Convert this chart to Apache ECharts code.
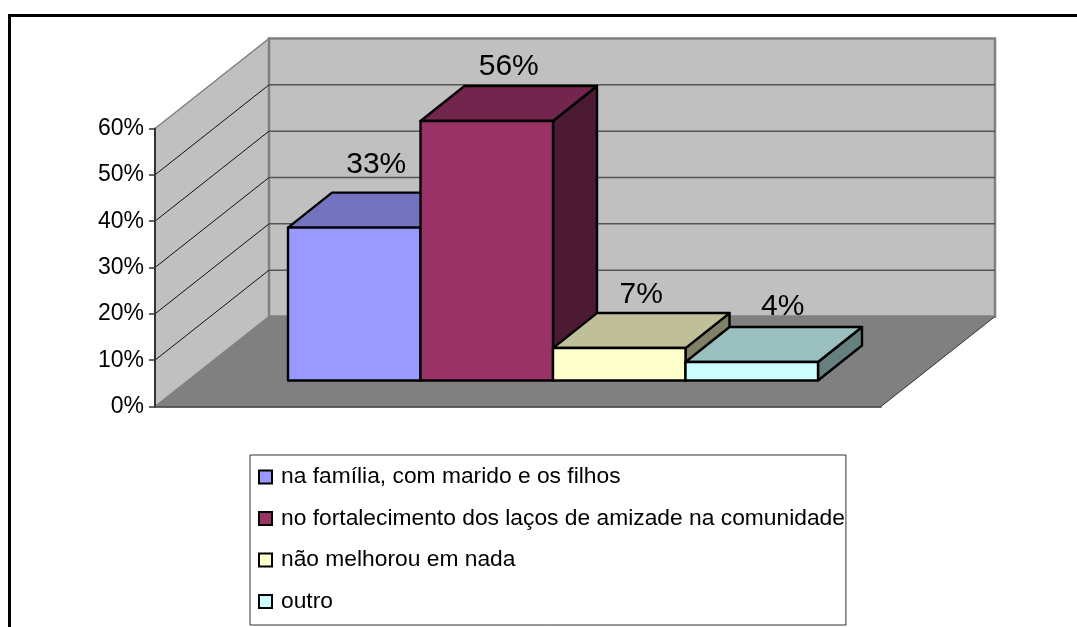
<!DOCTYPE html>
<html>
<head>
<meta charset="utf-8">
<style>html,body{margin:0;padding:0;background:#fff}#c{width:1077px;height:627px}</style>
<script src="https://cdn.jsdelivr.net/npm/echarts@6/dist/echarts.min.js"></script>
</head>
<body>
<div id="c"></div>
<script>
const categories = ['Melhoria'];
const seriesNames = ['na família, com marido e os filhos','no fortalecimento dos laços de amizade na comunidade','não melhorou em nada','outro'];
const seriesValues = [33, 56, 7, 4];
const yTicks = [0, 10, 20, 30, 40, 50, 60];

const frontColors = ['#9999ff','#993366','#ffffcc','#ccffff'];
const topColors = ['#7373bf','#73264d','#bfbf99','#99bfbf'];
const sideColors = ['#4d4d80','#4d1a33','#808066','#668080'];
const labelNudgeX = [0, 0, 0, 9];
const labelLift = [28, 19.5, 18, 20];

const FONT = 'Liberation Sans, Arial, sans-serif';
const WALL_DX = 114, WALL_DY = 90;
const BAR_DX = 44, BAR_DY = 35;
const BAR_BASE_LIFT = 26;
const BAR_FRACTION = 132.5 / 726;
const BARS_SHIFT = 35;

function wallsRender(params, api) {
  const o = api.coord([0, 0]);
  const t = api.coord([0, 60]);
  const w = api.size([1, 0])[0];
  const x0 = o[0] - w / 2, yb = o[1], yt = t[1];
  const x1 = x0 + w, dx = WALL_DX, dy = WALL_DY;
  const children = [
    {type:'polygon',shape:{points:[[x0,yb],[x0,yt],[x0+dx,yt-dy],[x0+dx,yb-dy]]},style:{fill:'#c0c0c0',stroke:'#808080',lineWidth:1.5}},
    {type:'polygon',shape:{points:[[x0+dx,yb-dy],[x0+dx,yt-dy],[x1+dx,yt-dy],[x1+dx,yb-dy]]},style:{fill:'#c0c0c0',stroke:'#808080',lineWidth:2.5}},
    {type:'polygon',shape:{points:[[x0,yb],[x0+dx,yb-dy],[x1+dx,yb-dy],[x1,yb]]},style:{fill:'#808080'}},
    {type:'line',shape:{x1:x1,y1:yb,x2:x1+dx,y2:yb-dy},style:{stroke:'#333',lineWidth:1}}
  ];
  yTicks.forEach(v => {
    if (v === 0 || v === 60) return;
    const y = api.coord([0, v])[1];
    children.push({type:'line',shape:{x1:x0,y1:y,x2:x0+dx,y2:y-dy},style:{stroke:'#111',lineWidth:1}});
    children.push({type:'line',shape:{x1:x0+dx,y1:y-dy,x2:x1+dx,y2:y-dy},style:{stroke:'#555',lineWidth:1.5}});
  });
  return {type:'group',children:children};
}

function barRender(i) {
  return function (params, api) {
    const val = api.value(1);
    const band = api.size([1, 0])[0];
    const bw = band * BAR_FRACTION;
    const c = api.coord([0, 0]);
    const h = c[1] - api.coord([0, val])[1];
    const l = c[0] + BARS_SHIFT + (i - 2) * bw, r = l + bw;
    const b = c[1] - BAR_BASE_LIFT, t = b - h;
    const dx = BAR_DX, dy = BAR_DY;
    const st = fill => ({fill:fill,stroke:'#000',lineWidth:2.4,lineJoin:'round'});
    return {type:'group',children:[
      {type:'polygon',shape:{points:[[r,b],[r,t],[r+dx,t-dy],[r+dx,b-dy]]},style:st(sideColors[i])},
      {type:'polygon',shape:{points:[[l,t],[l+dx,t-dy],[r+dx,t-dy],[r,t]]},style:st(topColors[i])},
      {type:'rect',shape:{x:l,y:t,width:bw,height:h},style:st(frontColors[i])},
      {type:'text',style:{text:val+'%',x:(l+r)/2+dx/2+labelNudgeX[i],y:t-dy-labelLift[i],align:'center',verticalAlign:'middle',fill:'#000',font:'30px '+FONT}}
    ]};
  };
}

const chart = echarts.init(document.getElementById('c'), null, {renderer:'canvas'});
chart.setOption({
  animation:false,
  backgroundColor:'#fff',
  grid:{left:155,top:128.5,width:726,height:278},
  xAxis:{type:'category',data:categories,axisLabel:{show:false},axisTick:{show:false},
    axisLine:{lineStyle:{color:'#333',width:1.5}},splitLine:{show:false},z:5},
  yAxis:{type:'value',min:0,max:60,interval:10,
    axisLabel:{formatter:'{value}%',color:'#000',fontFamily:FONT,fontSize:23,margin:11},
    axisTick:{show:true,length:6,lineStyle:{color:'#333',width:1.5}},
    axisLine:{show:true,lineStyle:{color:'#333',width:2}},splitLine:{show:false},z:5},
  legend:{
    orient:'vertical',left:250,top:455,
    data:seriesNames.map((n,i)=>({name:n,icon:'rect',itemStyle:{color:frontColors[i],borderColor:'#000',borderWidth:2}})),
    itemWidth:13,itemHeight:13,itemGap:18.5,
    padding:[10.5,1,12,8],
    backgroundColor:'#fff',borderColor:'#333',borderWidth:1,borderRadius:0,
    selectedMode:false,
    textStyle:{color:'#000',fontFamily:FONT,fontSize:22.8,lineHeight:23,padding:[0,0,0,4]}
  },
  graphic:[
    {type:'polyline',z:20,shape:{points:[[9.5,627],[9.5,15.5],[1077,15.5]]},style:{fill:null,stroke:'#000',lineWidth:3}}
  ],
  series:[
    {type:'custom',name:'paredes',silent:true,renderItem:wallsRender,data:[[0,0]],encode:{x:0,y:1},z:1}
  ].concat(seriesNames.map((n,i)=>({
    type:'custom',name:n,renderItem:barRender(i),data:[[0,seriesValues[i]]],encode:{x:0,y:1},
    itemStyle:{color:frontColors[i]},z:6+i,clip:false
  })))
});
</script>
</body>
</html>
